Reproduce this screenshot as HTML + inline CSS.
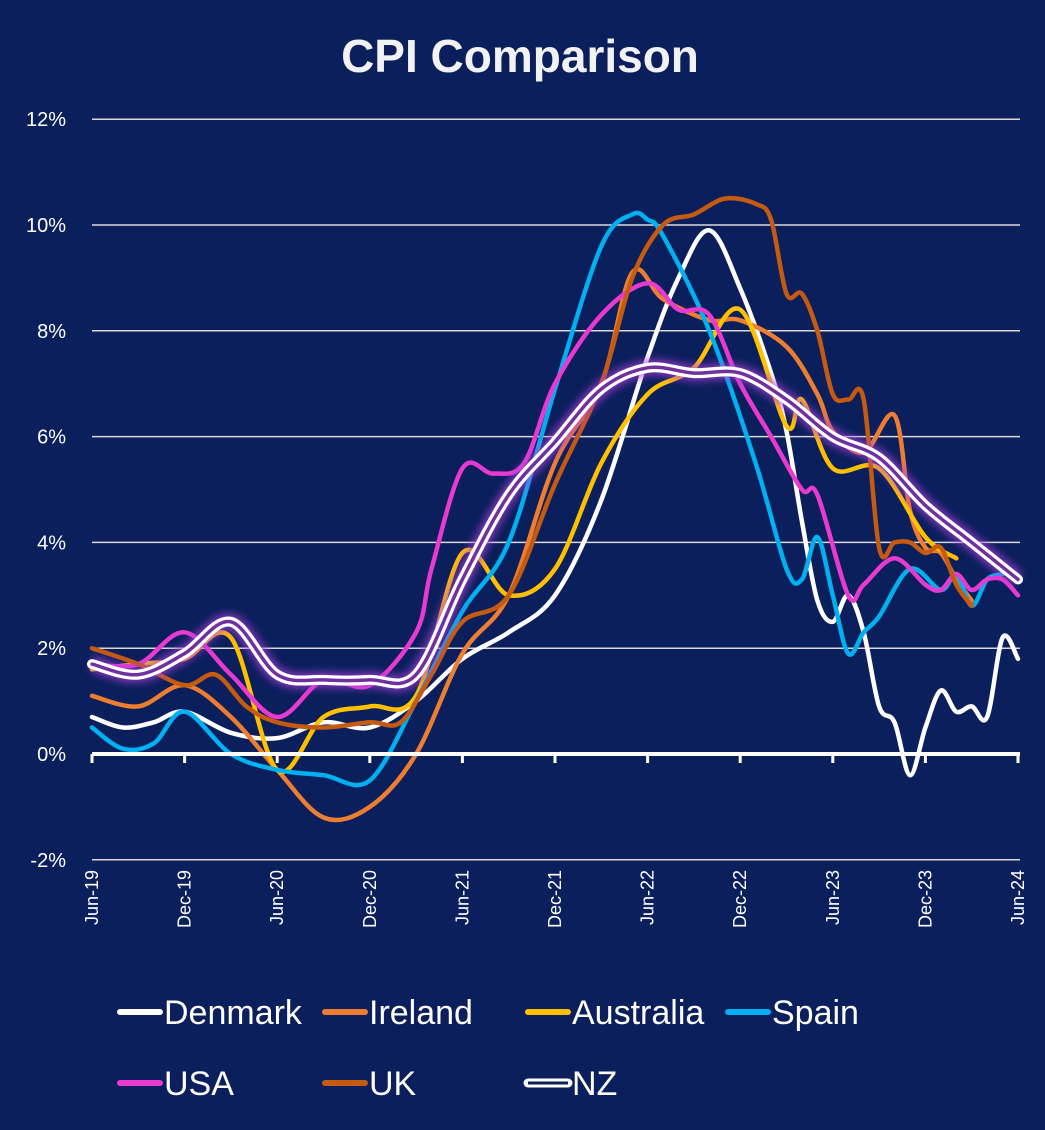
<!DOCTYPE html>
<html><head><meta charset="utf-8">
<style>
html,body{margin:0;padding:0;background:#0b1f5c;}
svg{display:block;font-family:"Liberation Sans Narrow","Liberation Sans",sans-serif;}
</style></head>
<body>
<svg id="chart" width="1045" height="1130" viewBox="0 0 1045 1130">
<defs><filter id="glow" x="-10%" y="-10%" width="120%" height="120%"><feGaussianBlur stdDeviation="4"/></filter></defs>
<rect width="1045" height="1130" fill="#0b1f5c"/>
<text x="520" y="72" text-anchor="middle" fill="#f2f2f2" font-family="Liberation Sans, sans-serif" font-weight="bold" font-size="46">CPI Comparison</text>
<g id="grid"></g><g id="series"></g><g id="axes"></g><g id="legend"></g>
</svg>
<script>
const yTicks = [-2,0,2,4,6,8,10,12];
const xTickLabels = ["Jun-19","Dec-19","Jun-20","Dec-20","Jun-21","Dec-21","Jun-22","Dec-22","Jun-23","Dec-23","Jun-24"];
const xTickMonths = [0,6,12,18,24,30,36,42,48,54,60];
const seriesNames = ["Denmark","Ireland","Australia","Spain","USA","UK","NZ"];
const denmarkMonths = [0,2,4,6,9,12,15,18,21,24,27,30,33,36,38,40,42,44,45,46,47,48,49,50,51,52,53,54,55,56,57,58,59,60];
const denmarkValues = [0.7,0.5,0.6,0.8,0.4,0.3,0.6,0.5,1.0,1.8,2.3,3.0,4.8,7.5,9.0,9.9,8.8,7.2,6.1,4.4,2.9,2.5,3.0,2.3,0.9,0.6,-0.4,0.5,1.2,0.8,0.9,0.7,2.2,1.8];
const irelandMonths = [0,3,6,9,12,15,18,21,24,27,30,33,35,37,40,42,45,47,48,50,52,53,54,55,56,57];
const irelandValues = [1.1,0.9,1.3,0.7,-0.3,-1.2,-1.0,0.0,1.9,3.0,5.5,7.0,9.1,8.6,8.2,8.2,7.7,6.8,6.1,5.7,6.4,4.6,3.9,3.8,3.3,2.9];
const australiaMonths = [0,3,6,9,12,15,18,21,24,27,30,33,36,39,42,45,46,48,51,54,56];
const australiaValues = [1.6,1.7,1.8,2.2,-0.3,0.7,0.9,1.1,3.8,3.0,3.5,5.5,6.8,7.3,8.4,6.2,6.7,5.4,5.4,4.1,3.7];
const spainMonths = [0,2,4,6,9,12,15,18,21,24,27,30,33,35,36,37,40,43,45,46,47,48,49,50,51,53,55,56,57,58,59];
const spainValues = [0.5,0.1,0.2,0.8,0.0,-0.3,-0.4,-0.5,1.0,2.7,4.0,6.9,9.6,10.2,10.1,9.8,8.0,5.5,3.5,3.3,4.1,3.0,1.9,2.3,2.6,3.5,3.1,3.4,2.8,3.3,3.4];
const usaMonths = [0,3,6,9,12,15,18,21,22,24,26,28,30,33,36,38,40,42,44,46,47,49,50,52,54,55,56,57,58,59,60];
const usaValues = [1.7,1.7,2.3,1.5,0.7,1.4,1.3,2.3,3.5,5.4,5.3,5.5,7.0,8.3,8.9,8.4,8.3,7.0,6.0,5.0,4.9,3.0,3.2,3.7,3.2,3.1,3.4,3.1,3.3,3.3,3.0];
const ukMonths = [0,3,6,8,10,12,15,18,20,22,24,27,30,33,35,37,39,41,43,44,45,46,47,48,49,50,51,52,53,54,55,56,57];
const ukValues = [2.0,1.7,1.3,1.5,0.9,0.6,0.5,0.6,0.6,1.5,2.5,3.0,5.1,7.0,9.0,10.0,10.2,10.5,10.4,10.1,8.7,8.7,8.0,6.8,6.7,6.7,3.9,4.0,4.0,3.8,3.9,3.2,2.8];
const nzMonths = [0,3,6,9,12,15,18,21,24,27,30,33,36,39,42,45,48,51,54,57,60];
const nzValues = [1.7,1.5,1.9,2.5,1.5,1.4,1.4,1.5,3.3,4.9,5.9,6.9,7.3,7.2,7.2,6.7,6.0,5.6,4.7,4.0,3.3];

const X0=92, X1=1018, Y0=754, PXPCT=52.9;
function xs(m){return X0+m*(X1-X0)/60;}
function ys(v){return Y0-v*PXPCT;}
const NS="http://www.w3.org/2000/svg";
function mk(tag,attrs,parent){const e=document.createElementNS(NS,tag);for(const k in attrs)e.setAttribute(k,attrs[k]);parent.appendChild(e);return e;}
function smooth(ms,vs){
  const p=ms.map((m,i)=>[xs(m),ys(vs[i])]);
  let d="M"+p[0][0].toFixed(1)+","+p[0][1].toFixed(1);
  for(let i=0;i<p.length-1;i++){
    const p0=p[i-1]||p[i],p1=p[i],p2=p[i+1],p3=p[i+2]||p2;
    const c1=[p1[0]+(p2[0]-p0[0])/6,p1[1]+(p2[1]-p0[1])/6];
    const c2=[p2[0]-(p3[0]-p1[0])/6,p2[1]-(p3[1]-p1[1])/6];
    d+=" C"+c1.map(v=>v.toFixed(1)).join(",")+" "+c2.map(v=>v.toFixed(1)).join(",")+" "+p2[0].toFixed(1)+","+p2[1].toFixed(1);
  }
  return d;
}
const grid=document.getElementById('grid'), axes=document.getElementById('axes'), ser=document.getElementById('series'), leg=document.getElementById('legend');
yTicks.forEach(t=>{
  if(t!==0){
    const l=mk('line',{x1:X0,x2:1020,y1:ys(t),y2:ys(t),stroke:'#d9d9d9','stroke-width':1.5},grid);
    
    
  }
  const tx=mk('text',{x:66,y:ys(t)+7,'text-anchor':'end',fill:'#fff','font-size':20,'font-family':'Liberation Sans, sans-serif'},axes);
  tx.textContent=t+'%';
  
  
});
const ax=mk('line',{x1:X0,x2:1020,y1:Y0,y2:Y0,stroke:'#fff','stroke-width':4},axes);


xTickMonths.forEach((m,i)=>{
  const tk=mk('line',{x1:xs(m),x2:xs(m),y1:Y0,y2:Y0+9,stroke:'#fff','stroke-width':3},axes);
  
  
  const tx=mk('text',{x:0,y:0,'text-anchor':'end',fill:'#fff','font-size':18,'font-family':'Liberation Sans, sans-serif',transform:'translate('+(xs(m)+6)+',870) rotate(-90)'},axes);
  tx.textContent=xTickLabels[i];
  
  
});
const defs=[
  [denmarkMonths,denmarkValues,'#ffffff'],
  [irelandMonths,irelandValues,'#ed7d31'],
  [australiaMonths,australiaValues,'#ffc000'],
  [spainMonths,spainValues,'#00b0f0'],
  [usaMonths,usaValues,'#e83ad0'],
  [ukMonths,ukValues,'#c55a11'],
];
defs.forEach((s,i)=>{
  const p=mk('path',{d:smooth(s[0],s[1]),fill:'none',stroke:s[2],'stroke-width':4.5,'stroke-linejoin':'round','stroke-linecap':'round'},ser);
  
  
});
const nzd=smooth(nzMonths,nzValues);
const g1=mk('path',{d:nzd,fill:'none',stroke:'#b040e0','stroke-width':16,opacity:0.7,filter:'url(#glow)'},ser);


const n1=mk('path',{d:nzd,fill:'none',stroke:'#ffffff','stroke-width':10,'stroke-linecap':'round'},ser);


const n2=mk('path',{d:nzd,fill:'none',stroke:'#7030a0','stroke-width':3.5,'stroke-linecap':'round'},ser);


const legPos=[[120,1012],[325,1012],[528,1012],[728,1012],[120,1083],[325,1083],[528,1083]];
const legCol=['#ffffff','#ed7d31','#ffc000','#00b0f0','#e83ad0','#c55a11','nz'];
seriesNames.forEach((n,i)=>{
  const [x,y]=legPos[i];
  const g=mk('g',{},leg);
  
  
  if(legCol[i]==='nz'){
    mk('line',{x1:x,x2:x+40,y1:y,y2:y,stroke:'#fff','stroke-width':9,'stroke-linecap':'round'},g);
    mk('line',{x1:x,x2:x+40,y1:y,y2:y,stroke:'#0b1f5c','stroke-width':3},g);
  } else {
    mk('line',{x1:x,x2:x+40,y1:y,y2:y,stroke:legCol[i],'stroke-width':6,'stroke-linecap':'round'},g);
  }
  const t=mk('text',{x:x+44,y:y+12,fill:'#fff','font-size':34},g);
  t.textContent=n;
});
</script>
</body></html>
